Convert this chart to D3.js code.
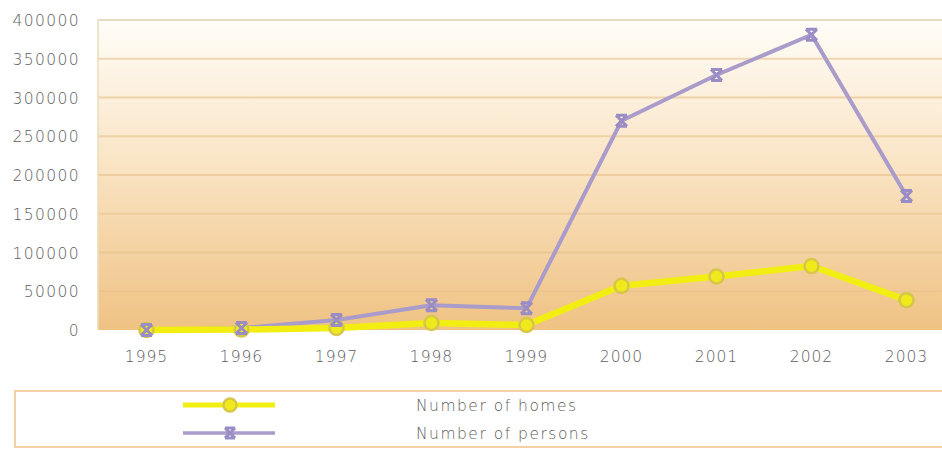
<!DOCTYPE html>
<html>
<head>
<meta charset="utf-8">
<script src="https://cdn.jsdelivr.net/npm/d3@7/dist/d3.min.js"></script>
<style>
  html, body { margin: 0; padding: 0; background: #ffffff; }
  svg { display: block; }
  text { font-family: "DejaVu Sans", sans-serif; font-weight: 200; fill: #5e5e5e; }
</style>
</head>
<body>
<svg id="chart" width="942" height="449"></svg>
<script>
// Annual figures, 1995–2003
const years = ["1995", "1996", "1997", "1998", "1999", "2000", "2001", "2002", "2003"];
const homes = [0, 500, 2600, 9000, 6500, 57000, 69000, 82500, 38500];
const persons = [0, 2500, 13000, 32000, 28000, 270000, 329000, 381000, 173000];
const yTicks = [0, 50000, 100000, 150000, 200000, 250000, 300000, 350000, 400000];
const seriesNames = ["Number of homes", "Number of persons"];

const svg = d3.select("#chart");
const W = 942;
const plot = { left: 98, top: 20, bottom: 330, right: 942 };

const x = d3.scaleBand().domain(years).range([99, 99 + 95 * years.length]);
const y = d3.scaleLinear().domain([0, 400000]).range([plot.bottom, plot.top]);

// Plot background: cream at the top fading to warm tan at the bottom
const defs = svg.append("defs");
const grad = defs.append("linearGradient")
  .attr("id", "bg").attr("x1", 0).attr("y1", 0).attr("x2", 0).attr("y2", 1);
grad.append("stop").attr("offset", "0%").attr("stop-color", "#fffdf8");
grad.append("stop").attr("offset", "45%").attr("stop-color", "#fae5c6");
grad.append("stop").attr("offset", "100%").attr("stop-color", "#efc283");

svg.append("rect")
  .attr("x", plot.left).attr("y", plot.top)
  .attr("width", plot.right - plot.left).attr("height", plot.bottom - plot.top)
  .attr("fill", "url(#bg)");

// Horizontal gridlines
svg.append("g").selectAll("line")
  .data(yTicks.filter(d => d > 0))
  .join("line")
  .attr("x1", plot.left).attr("x2", plot.right)
  .attr("y1", d => y(d)).attr("y2", d => y(d))
  .attr("stroke", d => d === 400000 ? "#e6dcc4" : "#e6c28a")
  .attr("stroke-opacity", d => d === 400000 ? 1 : 0.6)
  .attr("stroke-width", 2);

// Left edge of the plot area
svg.append("line")
  .attr("x1", plot.left).attr("x2", plot.left)
  .attr("y1", plot.top).attr("y2", plot.bottom)
  .attr("stroke", "#eadcb8").attr("stroke-width", 1.5);

// Y axis labels
const yAxis = d3.axisLeft(y).tickValues(yTicks).tickSize(0).tickPadding(0)
  .tickFormat(d3.format("d"));
svg.append("g")
  .attr("transform", "translate(80,0)")
  .call(yAxis)
  .call(g => g.select(".domain").remove())
  .call(g => g.selectAll("text")
    .attr("font-size", 15.5).attr("letter-spacing", 1.4)
    .attr("font-family", "DejaVu Sans, sans-serif")
    .attr("font-weight", 200)
    .attr("fill", "#5e5e5e").attr("dy", "0.36em"));

// X axis labels
const xAxis = d3.axisBottom(x).tickSize(0).tickPadding(0);
svg.append("g")
  .attr("transform", "translate(0,351)")
  .call(xAxis)
  .call(g => g.select(".domain").remove())
  .call(g => g.selectAll("text")
    .attr("font-size", 15.5).attr("letter-spacing", 1)
    .attr("font-family", "DejaVu Sans, sans-serif")
    .attr("font-weight", 200)
    .attr("fill", "#5e5e5e").attr("dy", "0.71em"));

const cx = d => x(d) + x.bandwidth() / 2;

const purple = "#a99bca";
const yellow = "#f2ee12";

// Cross marker with top and bottom bars
const crossPath = (s) =>
  `M${-s},${-s}L${s},${s}M${s},${-s}L${-s},${s}M${-s},${-s}L${s},${-s}M${-s},${s}L${s},${s}`;

const line = d3.line().x((d, i) => cx(years[i])).y(d => y(d));

// Persons
svg.append("path")
  .datum(persons)
  .attr("d", line)
  .attr("fill", "none").attr("stroke", purple)
  .attr("stroke-width", 4).attr("stroke-linejoin", "round");

// Homes
svg.append("path")
  .datum(homes)
  .attr("d", line)
  .attr("fill", "none").attr("stroke", yellow)
  .attr("stroke-width", 6.5).attr("stroke-linejoin", "round");

svg.append("g").selectAll("circle")
  .data(homes)
  .join("circle")
  .attr("cx", (d, i) => cx(years[i])).attr("cy", d => y(d))
  .attr("r", 7)
  .attr("fill", "#f0ea1c").attr("stroke", "#d6c64a").attr("stroke-width", 2.5);

svg.append("g").selectAll("path")
  .data(persons)
  .join("path")
  .attr("transform", (d, i) => `translate(${cx(years[i])},${y(d)})`)
  .attr("d", crossPath(5.5))
  .attr("fill", "none").attr("stroke", "#9a8cc4").attr("stroke-width", 3);

// Legend
const lg = svg.append("g");
lg.append("rect")
  .attr("x", 15).attr("y", 391).attr("width", W).attr("height", 56)
  .attr("fill", "#ffffff").attr("stroke", "#f4d0a4").attr("stroke-width", 2);

const legendRows = [
  { name: seriesNames[0], y: 405, kind: "homes" },
  { name: seriesNames[1], y: 433, kind: "persons" }
];
legendRows.forEach(r => {
  if (r.kind === "homes") {
    lg.append("line").attr("x1", 183).attr("x2", 275).attr("y1", r.y).attr("y2", r.y)
      .attr("stroke", yellow).attr("stroke-width", 5);
    lg.append("circle").attr("cx", 230).attr("cy", r.y).attr("r", 6.5)
      .attr("fill", "#f0ea1c").attr("stroke", "#d6c64a").attr("stroke-width", 2.5);
  } else {
    lg.append("line").attr("x1", 183).attr("x2", 275).attr("y1", r.y).attr("y2", r.y)
      .attr("stroke", purple).attr("stroke-width", 3.5);
    lg.append("path").attr("transform", `translate(230,${r.y})`).attr("d", crossPath(5))
      .attr("fill", "none").attr("stroke", "#9a8cc4").attr("stroke-width", 3);
  }
  lg.append("text").attr("x", 416).attr("y", r.y + 5.5)
    .attr("font-size", 15.5).attr("letter-spacing", 1.5)
    .attr("font-weight", 200)
    .attr("fill", "#5e5e5e")
    .text(r.name);
});
</script>
</body>
</html>
